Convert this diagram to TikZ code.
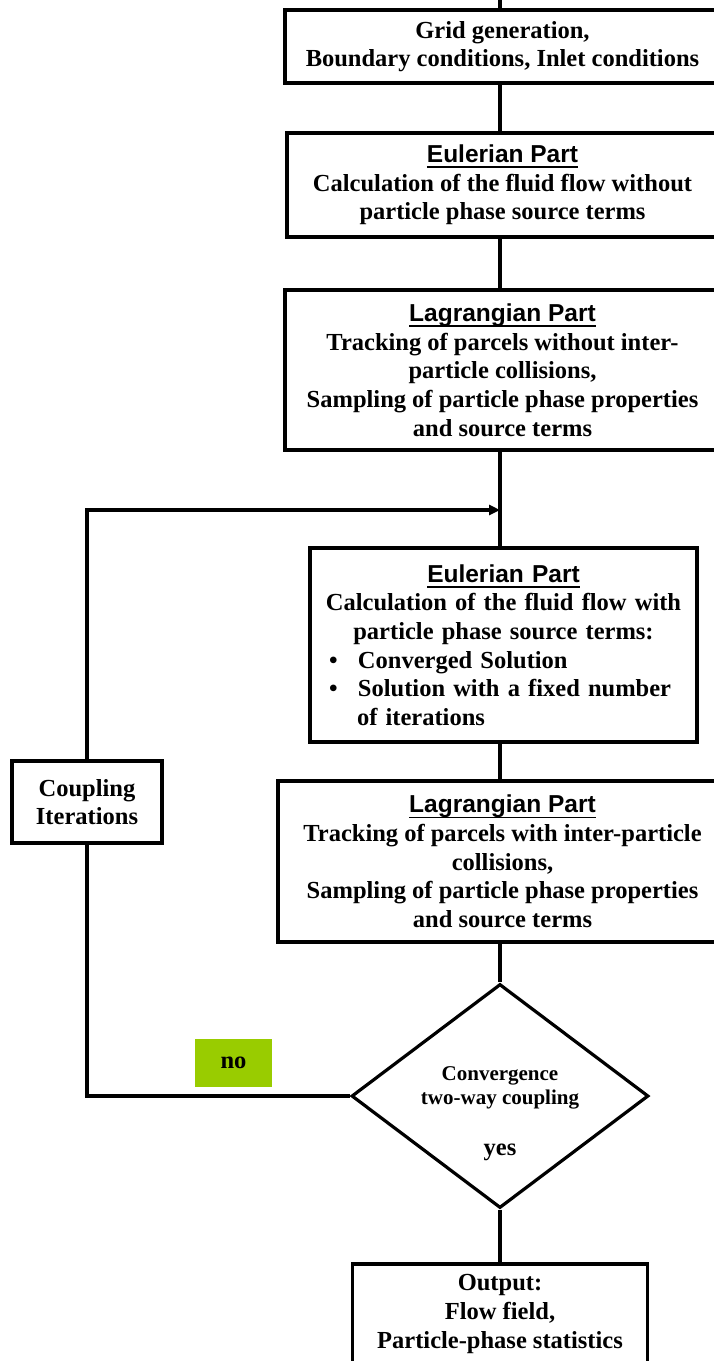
\documentclass[tikz,border=0pt]{standalone}
\usepackage{fontspec}
\setmainfont{Liberation Serif}
\newfontfamily\headfont{Liberation Sans}
\usetikzlibrary{positioning,shapes.geometric,arrows.meta}
\setlength{\parindent}{0pt}

\definecolor{nogreen}{HTML}{99CC00}

\newcommand{\parthead}[1]{{\headfont\bfseries\setbox0\hbox{#1}\rlap{\rule[-5.5pt]{\wd0}{1.7pt}}\box0}}
\newcommand{\bulline}[1]{\makebox[38pt][l]{\hspace*{9pt}\textbullet}#1}

\tikzset{
    block/.style={draw, line width=3.2pt, align=center, inner sep=0pt,
        font=\fontsize{24.5}{28.7}\selectfont\bfseries},
    decision/.style={draw, diamond, line width=3.2pt, inner sep=0pt},
    line/.style={line width=3.2pt},
    word/.style={font=\fontsize{24.5}{28.7}\selectfont\bfseries, inner sep=0pt}
}

\begin{document}
\begin{tikzpicture}[x=1pt, y=-1pt, node distance=100pt]
    \useasboundingbox (0,0) rectangle (714,1361);

    \coordinate (spine) at (500,0);
    \coordinate (entry) at (500,0);
    \coordinate (join) at (500,510);

    \node[block, minimum width=435pt, minimum height=73pt] (grid) at (502.5,46.5)
        {Grid generation,\\ Boundary conditions, Inlet conditions};
    \node[block, below of=grid, yshift=-38.5pt, minimum width=431pt, minimum height=104pt] (euler1)
        {\parthead{Eulerian Part}\\ Calculation of the fluid flow without\\ particle phase source terms};
    \node[block, below of=euler1, yshift=-85pt, minimum width=435pt, minimum height=160pt] (lagr1)
        {\parthead{Lagrangian Part}\\ Tracking of parcels without inter-\\ particle collisions,\\ Sampling of particle phase properties\\ and source terms};
    \node[block, below of=lagr1, xshift=1pt, yshift=-175pt, text width=367pt, minimum width=387pt, minimum height=194pt] (euler2)
        {\parthead{Eulerian Part}\\ Calculation of the fluid flow with\\ particle phase source terms:\par
         {\raggedright\bulline{Converged Solution}\\ \bulline{Solution with a fixed number}\\ \hspace*{37pt}of iterations\par}};
    \node[block, below of=euler2, xshift=-1pt, yshift=-116.5pt, minimum width=449pt, minimum height=161pt] (lagr2)
        {\parthead{Lagrangian Part}\\ Tracking of parcels with inter-particle\\ collisions,\\ Sampling of particle phase properties\\ and source terms};
    \node[decision, below of=lagr2, xshift=-2.5pt, yshift=-134.5pt, minimum width=297pt, minimum height=224pt] (conv) {};
    \node[word, font=\fontsize{21}{24.2}\selectfont\bfseries, align=center, yshift=8pt] (convtext) at (conv)
        {Convergence\\ two-way coupling};
    \node[word, anchor=base] (yes) at ([yshift=-59.5pt]conv.center) {yes};
    \node[block, below of=conv, yshift=-118pt, minimum width=295pt, minimum height=100pt] (output)
        {Output:\\ Flow field,\\ Particle-phase statistics};

    \node[block, left of=lagr2, xshift=-315.5pt, yshift=59.5pt, minimum width=150pt, minimum height=82pt] (coupling)
        {Coupling\\ Iterations};
    \node[word, fill=nogreen, left of=conv, xshift=-166.5pt, yshift=33pt, minimum width=77pt, minimum height=48pt] (no) {no};

    \draw[line] (entry) -- (grid.north -| spine);
    \draw[line] (grid.south -| spine) -- (euler1.north -| spine);
    \draw[line] (euler1.south -| spine) -- (lagr1.north -| spine);
    \draw[line] (lagr1.south -| spine) -- (euler2.north -| spine);
    \draw[line] (euler2.south -| spine) -- (lagr2.north -| spine);
    \draw[line] (lagr2.south -| spine) -- (conv.north);
    \draw[line] (conv.south) -- (output.north);

    \draw[line] (conv.west) -| (coupling.south);
    \draw[line, -{Triangle[length=11pt, width=10pt]}] (coupling.north) |- (join);
\end{tikzpicture}
\end{document}
